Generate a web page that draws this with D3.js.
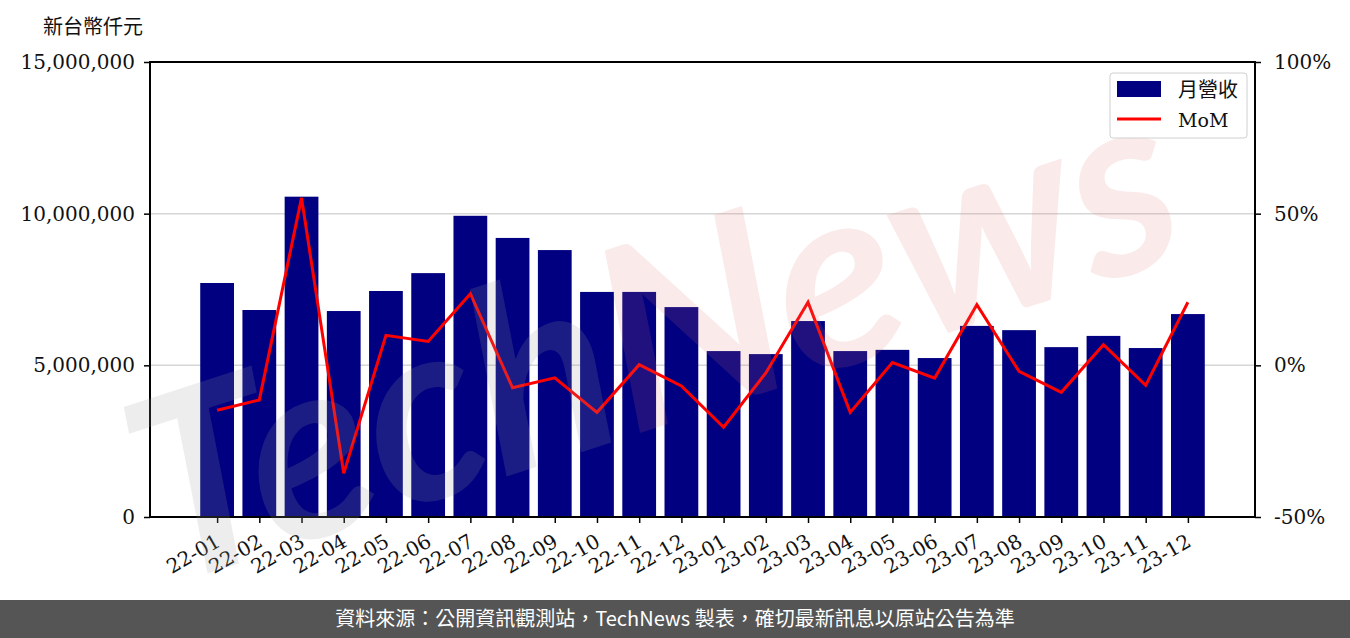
<!DOCTYPE html>
<html>
<head>
<meta charset="UTF-8" />
<title>月營收 MoM</title>
<script src="https://d3js.org/d3.v7.min.js"></script>
<style>
  body { margin: 0; background: #fff; }
  svg text { font-family: "DejaVu Serif", serif; }
</style>
</head>
<body>
<div id="chart"></div>
<script>
// data
var months = ["22-01","22-02","22-03","22-04","22-05","22-06","22-07","22-08","22-09","22-10","22-11","22-12",
              "23-01","23-02","23-03","23-04","23-05","23-06","23-07","23-08","23-09","23-10","23-11","23-12"];
var revenue = [7714000, 6824000, 10560000, 6790000, 7450000, 8040000, 9930000, 9200000, 8800000, 7420000, 7420000, 6920000,
               5470000, 5370000, 6460000, 5470000, 5510000, 5240000, 6300000, 6160000, 5600000, 5970000, 5570000, 6690000];
var mom = [-14.8, -11.4, 55.2, -35.6, 9.9, 7.9, 23.6, -7.4, -4.1, -15.5, 0.2, -6.8,
           -20.4, -2.5, 20.8, -15.5, 0.9, -4.2, 20.0, -2.0, -8.9, 6.8, -6.6, 20.8];
var leftTicks = [0, 5000000, 10000000, 15000000];
var rightTicks = [-50, 0, 50, 100];

var W = 1350, H = 638;
var margin = {top: 62, right: 95, bottom: 121, left: 150};
var width = W - margin.left - margin.right,
    height = H - margin.top - margin.bottom;

var svg = d3.select("#chart").append("svg")
    .attr("width", W).attr("height", H);
var g = svg.append("g")
    .attr("transform", "translate(" + margin.left + "," + margin.top + ")");

var x = d3.scaleLinear().domain([-1.59, 24.59]).range([0, width]);
var y = d3.scaleLinear().domain([0, 15000000]).range([height, 0]);
var y2 = d3.scaleLinear().domain([-50, 100]).range([height, 0]);
var bw = x(0.4) - x(-0.4);

// grid
g.selectAll("line.grid")
  .data([5000000, 10000000])
  .enter().append("line")
    .attr("class", "grid")
    .attr("x1", 0).attr("x2", width)
    .attr("y1", function(d) { return y(d); })
    .attr("y2", function(d) { return y(d); })
    .attr("stroke", "#d6d6d6")
    .attr("stroke-width", 1.5);

// bars
g.selectAll("rect.bar")
  .data(revenue)
  .enter().append("rect")
    .attr("class", "bar")
    .attr("x", function(d, i) { return x(i) - bw / 2; })
    .attr("y", function(d) { return y(d); })
    .attr("width", bw)
    .attr("height", function(d) { return height - y(d); })
    .attr("fill", "#000080");

// MoM line
var line = d3.line()
  .x(function(d, i) { return x(i); })
  .y(function(d) { return y2(d); });
g.append("path")
  .datum(mom)
  .attr("d", line)
  .attr("fill", "none")
  .attr("stroke", "#ff0000")
  .attr("stroke-width", 3)
  .attr("stroke-linejoin", "miter");

// watermark
var wm = svg.append("text")
  .attr("transform", "translate(680,420) rotate(-18)")
  .attr("text-anchor", "middle")
  .style("font-family", "Lato")
  .style("font-style", "italic")
  .style("font-weight", "700")
  .style("font-size", "255px")
  .style("pointer-events", "none");
wm.append("tspan").text("Tech").attr("fill", "#9a9a9a").attr("fill-opacity", 0.18);
wm.append("tspan").text("News").attr("fill", "#e07070").attr("fill-opacity", 0.15);

// axes
var xAxis = g.append("g")
  .attr("transform", "translate(0," + height + ")")
  .call(d3.axisBottom(x).tickValues(d3.range(months.length))
        .tickFormat(function(i) { return months[i]; }).tickSize(6).tickSizeOuter(0));
xAxis.select(".domain").remove();
xAxis.selectAll("text")
  .attr("transform", "translate(-3,16) rotate(-30)")
  .attr("text-anchor", "end")
  .attr("dy", "0.71em")
  .attr("y", 0)
  .style("font-size", "20px")
  .attr("fill", "#111");

var yAxis = g.append("g")
  .call(d3.axisLeft(y).tickValues(leftTicks).tickFormat(d3.format(",")).tickSize(6).tickSizeOuter(0));
yAxis.select(".domain").remove();
yAxis.selectAll("text").style("font-size", "20px").attr("x", -15).attr("fill", "#111");

var yAxis2 = g.append("g")
  .attr("transform", "translate(" + width + ",0)")
  .call(d3.axisRight(y2).tickValues(rightTicks).tickFormat(function(d) { return d + "%"; }).tickSize(6).tickSizeOuter(0));
yAxis2.select(".domain").remove();
yAxis2.selectAll("text").style("font-size", "20px").attr("x", 19).attr("fill", "#111");

g.selectAll(".tick line").attr("stroke", "#000").attr("stroke-width", 1.5);

// frame
g.append("rect")
  .attr("width", width).attr("height", height)
  .attr("fill", "none").attr("stroke", "#000").attr("stroke-width", 2);

// unit label
svg.append("text")
  .attr("x", 43).attr("y", 34)
  .style("font-family", "'Noto Sans CJK TC'")
  .style("font-size", "20px")
  .attr("fill", "#111")
  .text("新台幣仟元");

// legend
var lg = svg.append("g").attr("transform", "translate(1110,73)");
lg.append("rect")
  .attr("width", 137).attr("height", 65).attr("rx", 3)
  .attr("fill", "#fff").attr("fill-opacity", 0.85)
  .attr("stroke", "#d0d0d0").attr("stroke-width", 1);
lg.append("rect").attr("x", 7).attr("y", 8).attr("width", 44).attr("height", 16).attr("fill", "#000080");
lg.append("line").attr("x1", 7).attr("x2", 51).attr("y1", 46).attr("y2", 46)
  .attr("stroke", "#ff0000").attr("stroke-width", 3);
lg.append("text").attr("x", 68).attr("y", 24)
  .style("font-family", "'Noto Sans CJK TC'").style("font-size", "20px").attr("fill", "#111")
  .text("月營收");
lg.append("text").attr("x", 68).attr("y", 54)
  .style("font-size", "19px").attr("fill", "#111")
  .text("MoM");

// footer
svg.append("rect").attr("x", 0).attr("y", 600).attr("width", W).attr("height", 38).attr("fill", "#555555");
svg.append("text")
  .attr("x", W / 2).attr("y", 626)
  .attr("text-anchor", "middle")
  .style("font-family", "'Noto Sans CJK TC'")
  .style("font-size", "20px")
  .attr("fill", "#fff")
  .text("資料來源：公開資訊觀測站，TechNews 製表，確切最新訊息以原站公告為準");
</script>
</body>
</html>
